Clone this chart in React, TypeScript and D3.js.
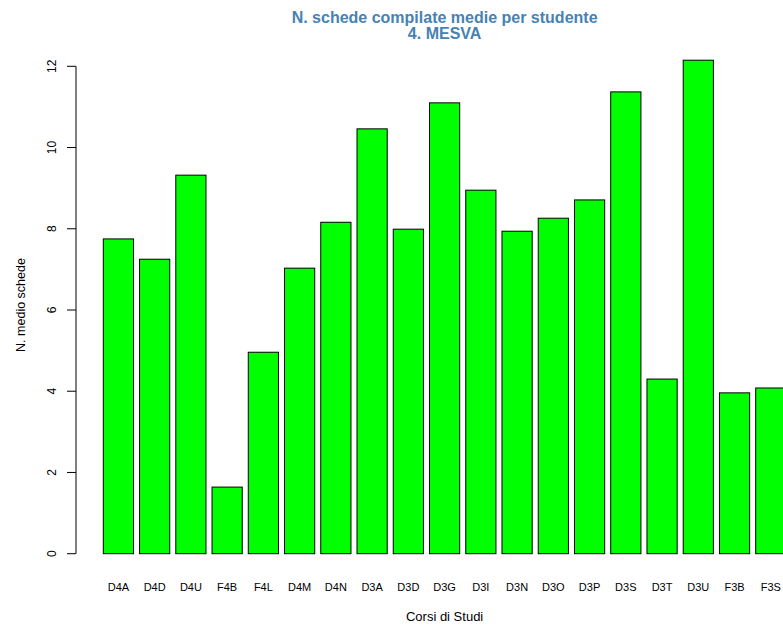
import React from "react";
import * as d3 from "d3";

const categories = ["D4A","D4D","D4U","F4B","F4L","D4M","D4N","D3A","D3D","D3G","D3I","D3N","D3O","D3P","D3S","D3T","D3U","F3B","F3S"];
const values = [7.75,7.25,9.32,1.64,4.96,7.03,8.16,10.46,7.99,11.10,8.95,7.94,8.26,8.71,11.37,4.30,12.15,3.96,4.08];
const yTicks = [0,2,4,6,8,10,12];
const titleLines = ["N. schede compilate medie per studente","4. MESVA"];
const xLabel = "Corsi di Studi";
const yLabel = "N. medio schede";

export default function App() {
  const W = 783, H = 630;
  const font = "'Liberation Sans', Arial, Helvetica, sans-serif";
  const x = d3.scaleLinear().domain([-0.704, 23.704]).range([76.0, 813.2]);
  const y = d3.scaleLinear().domain([0, 12]).range([553.7, 66.3]);
  const cx = (x.range()[0] + x.range()[1]) / 2;
  const axisX = x(-0.704);
  return (
    <svg width={W} height={H} style={{ position: "absolute", left: 0, top: 0, background: "#fff" }} fontFamily={font}>
      <rect x={0} y={0} width={W} height={H} fill="#fff" />
      {values.map((v, i) => {
        const x0 = x(0.2 + 1.2 * i), x1 = x(1.2 + 1.2 * i);
        return (
          <rect key={categories[i]} x={x0} y={y(v)} width={x1 - x0} height={y(0) - y(v)}
            fill="#00ff00" stroke="#000" strokeWidth={1} />
        );
      })}
      {categories.map((c, i) => (
        <text key={c} x={x(0.7 + 1.2 * i)} y={591} fontSize={11} textAnchor="middle" fill="#000">{c}</text>
      ))}
      <line x1={axisX} x2={axisX} y1={y(0)} y2={y(12)} stroke="#000" strokeWidth={1} />
      {yTicks.map(t => (
        <g key={t}>
          <line x1={axisX - 9} x2={axisX} y1={y(t)} y2={y(t)} stroke="#000" strokeWidth={1} />
          <text transform={`translate(56,${y(t)}) rotate(-90)`} fontSize={12} textAnchor="middle" fill="#000">{t}</text>
        </g>
      ))}
      <text x={cx} y={22.5} fontSize={16} fontWeight="bold" textAnchor="middle" fill="#4682b4">{titleLines[0]}</text>
      <text x={cx} y={39} fontSize={16} fontWeight="bold" textAnchor="middle" fill="#4682b4">{titleLines[1]}</text>
      <text x={cx} y={621} fontSize={13} textAnchor="middle" fill="#000">{xLabel}</text>
      <text transform={`translate(25,305) rotate(-90)`} fontSize={12.5} textAnchor="middle" fill="#000">{yLabel}</text>
    </svg>
  );
}
